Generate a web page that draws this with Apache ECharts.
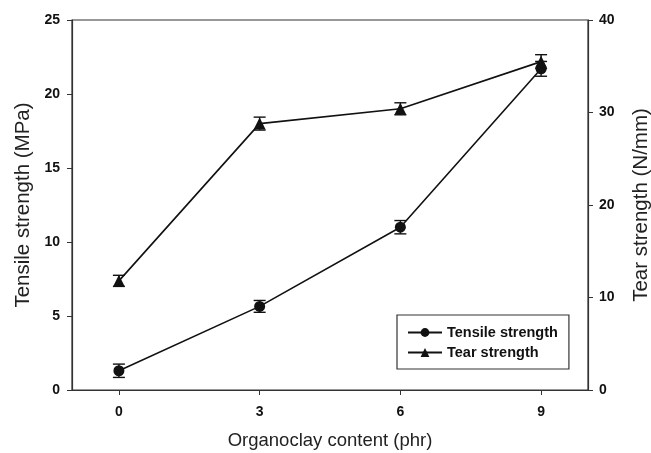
<!DOCTYPE html>
<html>
<head>
<meta charset="utf-8">
<script src="https://cdn.jsdelivr.net/npm/echarts@6/dist/echarts.min.js"></script>
<style>
  html, body { margin: 0; padding: 0; background: #fff; }
  #chart { width: 651px; height: 453px; }
</style>
</head>
<body>
<div id="chart"></div>
<script>
// organoclay content (phr)
const content = [0, 3, 6, 9]
// tensile strength (MPa) and its error
const tensile = [1.3, 5.65, 11.0, 21.7]
const tensileErr = [0.45, 0.4, 0.45, 0.5]
// tear strength (N/mm) and its error
const tear = [11.8, 28.8, 30.4, 35.5]
const tearErr = [0.6, 0.7, 0.65, 0.75]
const xTicks = [0, 3, 6, 9]

const font = 'Liberation Sans, Arial, sans-serif'
const ink = '#111'
const frame = '#333'

function pairs (vals) {
  return content.map((x, i) => [x, vals[i]])
}
function errRows (vals, errs) {
  return content.map((x, i) => [x, vals[i] - errs[i], vals[i] + errs[i]])
}

// error bar drawn with the axis scales
function errorBar (params, api) {
  let x = api.value(0)
  let lo = api.coord([x, api.value(1)])
  let hi = api.coord([x, api.value(2)])
  let w = 6
  let style = { stroke: ink, lineWidth: 1.4 }
  return {
    type: 'group',
    children: [
      { type: 'line', shape: { x1: lo[0], y1: lo[1], x2: hi[0], y2: hi[1] }, style: style },
      { type: 'line', shape: { x1: lo[0] - w, y1: lo[1], x2: lo[0] + w, y2: lo[1] }, style: style },
      { type: 'line', shape: { x1: hi[0] - w, y1: hi[1], x2: hi[0] + w, y2: hi[1] }, style: style }
    ]
  }
}

const tickLabel = { fontFamily: font, fontSize: 14, fontWeight: 'bold', color: ink }
const axisName = { fontFamily: font, fontSize: 20.5, color: '#222' }

let chart = echarts.init(document.getElementById('chart'))
chart.setOption({
  animation: false,
  backgroundColor: '#fff',
  grid: {
    left: 72, right: 63, top: 20, bottom: 63,
    outerBoundsMode: 'none',
    containLabel: false,
    show: true, borderColor: frame, borderWidth: 1.2
  },
  legend: {
    data: ['Tensile strength', 'Tear strength'],
    orient: 'vertical',
    left: 397,
    top: 315,
    padding: [10, 11, 9, 10],
    itemWidth: 34,
    itemHeight: 11,
    itemGap: 5,
    borderColor: frame,
    borderWidth: 1.2,
    textStyle: { fontFamily: font, fontSize: 14.5, fontWeight: 'bold', color: ink }
  },
  xAxis: {
    type: 'value',
    min: -1,
    max: 10,
    name: 'Organoclay content (phr)',
    nameLocation: 'middle',
    nameGap: 41,
    nameTextStyle: { fontFamily: font, fontSize: 18.5, color: '#222' },
    axisLine: { show: true, lineStyle: { color: frame, width: 1.2 } },
    axisTick: { show: true, customValues: xTicks, length: 5, lineStyle: { color: frame } },
    axisLabel: Object.assign({ customValues: xTicks, margin: 15 }, tickLabel),
    splitLine: { show: false }
  },
  yAxis: [
    {
      type: 'value',
      min: 0,
      max: 25,
      interval: 5,
      name: 'Tensile strength (MPa)',
      nameLocation: 'middle',
      nameGap: 38,
      nameTextStyle: axisName,
      axisLine: { show: true, onZero: false, lineStyle: { color: frame, width: 1.2 } },
      axisTick: { show: true, length: 5, lineStyle: { color: frame } },
      axisLabel: Object.assign({ margin: 12 }, tickLabel),
      splitLine: { show: false }
    },
    {
      type: 'value',
      min: 0,
      max: 40,
      interval: 10,
      position: 'right',
      name: 'Tear strength (N/mm)',
      nameLocation: 'middle',
      nameGap: 43,
      nameRotate: 90,
      nameTextStyle: axisName,
      axisLine: { show: true, onZero: false, lineStyle: { color: frame, width: 1.2 } },
      axisTick: { show: true, length: 5, lineStyle: { color: frame } },
      axisLabel: Object.assign({ margin: 11 }, tickLabel),
      splitLine: { show: false }
    }
  ],
  series: [
    {
      name: 'Tensile strength',
      type: 'line',
      yAxisIndex: 0,
      data: pairs(tensile),
      symbol: 'circle',
      symbolSize: 11,
      itemStyle: { color: ink },
      lineStyle: { color: ink, width: 1.6 }
    },
    {
      name: 'Tear strength',
      type: 'line',
      yAxisIndex: 1,
      data: pairs(tear),
      symbol: 'triangle',
      symbolSize: 12,
      itemStyle: { color: ink },
      lineStyle: { color: ink, width: 1.6 }
    },
    {
      name: 'tensile err',
      type: 'custom',
      yAxisIndex: 0,
      renderItem: errorBar,
      data: errRows(tensile, tensileErr),
      z: 1
    },
    {
      name: 'tear err',
      type: 'custom',
      yAxisIndex: 1,
      renderItem: errorBar,
      data: errRows(tear, tearErr),
      z: 1
    }
  ]
})
</script>
</body>
</html>
